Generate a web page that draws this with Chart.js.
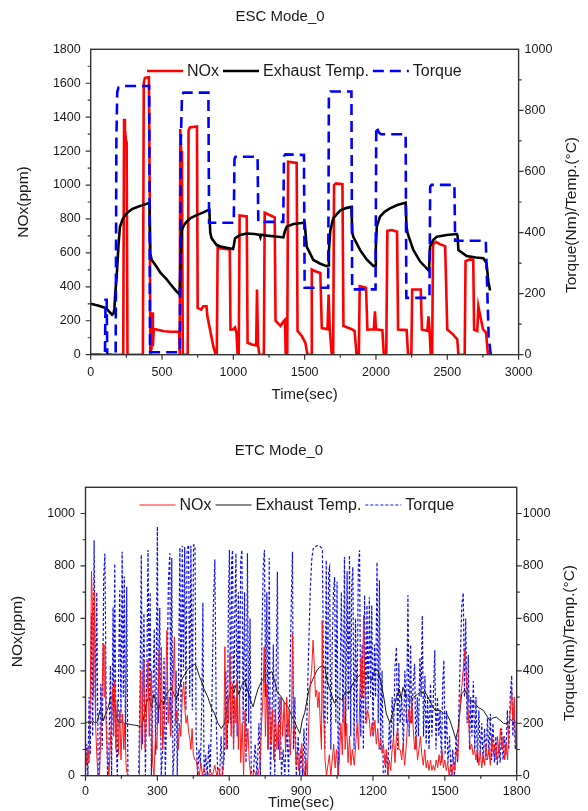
<!DOCTYPE html>
<html>
<head>
<meta charset="utf-8">
<title>ESC / ETC Mode_0</title>
<script src="https://cdn.jsdelivr.net/npm/chart.js@4.4.0/dist/chart.umd.min.js"></script>
<style>
  body { margin: 0; background: #fff; }
  #wrap { position: relative; width: 588px; height: 811px; }
  canvas { position: absolute; left: 0; }
  #escChart { top: 0; }
  #etcChart { top: 420px; }
</style>
</head>
<body>
<div id="wrap">
  <canvas id="escChart" width="588" height="420"></canvas>
  <canvas id="etcChart" width="588" height="391"></canvas>
</div>
<script>
// ---- ESC Mode_0 : [time (sec), value] ----
const escNox = [
  [0,0],[228,0],[234,1390],[240,1330],[246,1270],[252,1250],[258,0],[366,0],[372,1600],[380,1632],[408,1635],[414,900],[418,0],
  [422,220],[426,30],[431,250],[436,50],[442,150],[455,150],[515,138],[560,135],[620,135],[624,0],[628,1330],[634,1200],[640,1000],
  [646,0],[680,0],[686,1320],[695,1340],[745,1345],[750,276],[775,266],[790,286],[812,286],[818,226],[846,108],[860,49],[876,0],
  [884,0],[890,630],[930,625],[975,620],[980,148],[1000,150],[1012,160],[1022,130],[1030,0],[1038,0],[1044,820],[1094,815],
  [1100,70],[1130,60],[1160,55],[1166,384],[1173,60],[1182,0],[1214,0],[1220,837],[1250,825],[1290,810],[1296,200],[1330,170],
  [1355,200],[1362,206],[1367,0],[1378,0],[1384,1137],[1444,1130],[1450,140],[1480,110],[1505,69],[1520,0],[1545,0],[1550,502],
  [1580,490],[1610,482],[1620,157],[1660,150],[1668,354],[1676,150],[1690,0],[1700,0],[1706,1000],[1720,1010],[1765,1005],
  [1772,170],[1800,160],[1830,150],[1850,140],[1858,60],[1864,0],[1880,0],[1886,404],[1930,394],[1940,148],[1985,150],[1993,256],
  [2000,150],[2045,145],[2055,0],[2072,0],[2080,730],[2110,735],[2148,725],[2155,148],[2215,145],[2225,0],[2248,0],[2254,384],
  [2314,384],[2322,148],[2360,140],[2368,226],[2376,140],[2384,0],[2394,0],[2400,650],[2420,665],[2450,650],[2485,640],[2500,148],
  [2540,120],[2570,90],[2578,0],[2622,0],[2628,551],[2660,562],[2682,560],[2688,148],[2710,140],[2718,285],[2750,150],[2772,130],
  [2785,0],[2800,0]
];
const escTemp = [
  [0,167],[50,161],[105,153],[150,131],[160,135],[166,150],[172,200],[182,255],[195,360],[205,419],[225,445],[252,463],[290,477],
  [322,483],[360,489],[404,496],[412,496],[418,330],[428,310],[462,288],[490,268],[530,248],[561,230],[600,208],[624,197],[630,300],
  [638,408],[655,425],[673,436],[700,447],[743,457],[790,466],[825,474],[832,474],[838,400],[848,381],[883,359],[920,353],[953,350],
  [998,346],[1005,362],[1012,381],[1047,392],[1094,397],[1150,395],[1185,392],[1190,385],[1195,393],[1235,390],[1300,387],[1351,384],
  [1362,405],[1374,419],[1421,428],[1480,431],[1500,432],[1506,400],[1514,354],[1561,310],[1610,298],[1654,290],[1665,292],[1670,340],
  [1680,408],[1701,447],[1748,472],[1790,480],[1828,484],[1834,400],[1841,386],[1888,343],[1935,312],[1982,290],[1995,292],[1999,350],
  [2006,419],[2028,452],[2060,468],[2098,479],[2150,490],[2208,498],[2214,420],[2222,397],[2262,343],[2310,305],[2367,277],[2373,285],
  [2379,354],[2400,375],[2426,386],[2496,392],[2566,395],[2572,390],[2578,343],[2636,323],[2700,318],[2753,316],[2775,300],[2788,240],
  [2800,210]
];
const escTorque = [
  [0,0],[100,0],[104,180],[112,180],[116,0],[175,0],[180,700],[186,860],[195,875],[230,880],[410,880],[416,10],[430,8],[625,8],
  [632,700],[640,850],[650,858],[825,858],[830,432],[1003,432],[1008,640],[1015,648],[1170,648],[1175,435],[1350,435],[1355,650],
  [1365,656],[1495,654],[1500,219],[1665,219],[1670,855],[1680,862],[1828,862],[1833,214],[1997,214],[2002,747],[2020,728],
  [2035,722],[2208,722],[2213,186],[2375,186],[2380,550],[2390,556],[2550,556],[2555,373],[2770,373],[2790,60],[2805,0]
];

// ---- ETC Mode_0 : [time (sec), value] ----
const etcNox = [
  [0,100],[5,40],[10,108],[15,50],[20,300],[25,780],[29,650],[33,300],[37,700],[42,200],[47,80],[52,0],[58,0],[64,150],[70,350],
  [74,505],[78,300],[81,500],[86,200],[92,60],[98,0],[105,150],[110,250],[113,339],[118,150],[122,360],[127,100],[133,288],[138,80],
  [143,250],[148,60],[155,235],[160,100],[164,200],[170,30],[176,0],[225,0],[230,403],[234,100],[240,300],[244,440],[249,100],
  [255,250],[261,441],[266,150],[270,300],[275,400],[280,50],[286,0],[292,150],[298,100],[303,300],[308,479],[313,150],[317,490],
  [322,100],[328,200],[334,300],[340,555],[345,200],[350,300],[355,150],[362,300],[367,400],[371,530],[376,200],[382,250],[387,100],
  [393,200],[398,150],[404,300],[410,358],[416,240],[420,200],[425,230],[430,170],[436,140],[440,100],[445,180],[450,80],[457,60],
  [463,57],[468,20],[475,0],[482,50],[488,0],[495,30],[502,0],[510,0],[520,20],[530,0],[540,40],[548,0],[556,30],[563,0],[570,0],
  [576,50],[582,492],[587,100],[592,300],[597,200],[603,466],[608,150],[613,350],[618,100],[623,300],[628,200],[633,363],[638,100],
  [643,314],[648,50],[654,200],[660,0],[666,250],[672,100],[678,180],[684,50],[690,0],[698,0],[705,20],[712,0],[720,0],[728,50],
  [735,200],[741,300],[746,492],[751,150],[757,350],[762,100],[768,300],[774,120],[780,250],[786,60],[793,250],[799,100],[805,200],
  [811,60],[817,300],[823,150],[829,280],[835,100],[840,300],[845,150],[850,250],[855,80],[860,200],[864,543],[869,200],[874,150],
  [879,40],[885,100],[890,20],[896,80],[903,123],[908,30],[914,0],[920,60],[926,0],[932,200],[938,350],[944,400],[950,517],[955,420],
  [960,300],[965,327],[970,260],[975,320],[980,200],[985,100],[988,592],[992,250],[996,200],[1000,60],[1006,0],[1012,40],[1018,80],
  [1024,0],[1030,60],[1036,120],[1042,30],[1048,100],[1054,0],[1060,60],[1066,200],[1072,80],[1078,300],[1084,100],[1090,200],
  [1096,50],[1102,150],[1108,40],[1114,100],[1122,40],[1128,120],[1134,200],[1140,100],[1145,300],[1150,450],[1155,300],[1161,612],
  [1166,350],[1172,200],[1178,250],[1185,212],[1190,150],[1196,200],[1202,150],[1208,212],[1214,120],[1220,180],[1226,100],[1232,140],
  [1238,85],[1244,120],[1250,40],[1256,100],[1262,0],[1268,60],[1274,20],[1280,100],[1286,150],[1292,50],[1298,149],[1303,180],
  [1308,100],[1314,98],[1320,60],[1326,120],[1332,40],[1338,100],[1344,200],[1350,250],[1356,200],[1362,289],[1368,180],[1374,100],
  [1380,150],[1386,60],[1392,100],[1398,150],[1404,80],[1410,40],[1416,100],[1422,30],[1428,60],[1434,20],[1440,60],[1446,20],
  [1452,40],[1458,20],[1464,60],[1470,30],[1476,80],[1482,40],[1488,100],[1494,30],[1500,60],[1506,20],[1512,50],[1518,0],[1524,40],
  [1530,0],[1536,60],[1542,20],[1548,100],[1554,60],[1560,200],[1566,300],[1572,350],[1578,420],[1584,479],[1589,400],[1594,300],
  [1600,200],[1606,100],[1612,120],[1618,80],[1624,100],[1630,60],[1636,100],[1642,40],[1648,90],[1654,30],[1660,80],[1666,40],
  [1672,120],[1678,60],[1684,100],[1690,40],[1696,150],[1702,80],[1708,120],[1714,60],[1720,150],[1726,80],[1732,180],[1738,100],
  [1744,150],[1750,60],[1756,120],[1762,60],[1768,200],[1774,250],[1779,327],[1784,212],[1790,300],[1795,120],[1800,150]
];
const etcTemp = [
  [0,200],[10,205],[20,200],[30,210],[40,200],[50,205],[60,250],[67,248],[75,210],[85,240],[95,260],[105,300],[115,299],[122,280],
  [130,220],[140,200],[150,205],[160,200],[175,198],[190,195],[205,193],[220,190],[233,185],[245,230],[255,280],[265,300],[275,260],
  [285,310],[295,280],[305,250],[315,290],[325,270],[335,300],[345,320],[358,337],[370,310],[380,290],[390,330],[400,363],[410,380],
  [420,395],[430,410],[442,414],[456,427],[465,410],[475,380],[483,363],[495,330],[511,299],[525,260],[539,236],[553,200],[567,180],
  [580,200],[590,250],[600,300],[608,338],[620,320],[630,350],[640,310],[650,340],[664,363],[675,330],[685,300],[692,280],[700,263],
  [710,300],[720,330],[735,360],[750,380],[765,390],[778,397],[790,360],[800,320],[817,301],[830,280],[845,263],[860,230],[875,200],
  [885,180],[895,161],[905,212],[915,240],[925,290],[935,337],[950,370],[965,400],[977,414],[991,420],[1000,410],[1008,363],
  [1020,330],[1030,300],[1040,276],[1055,300],[1070,289],[1085,320],[1100,314],[1115,350],[1130,370],[1151,389],[1170,390],
  [1185,375],[1193,363],[1208,403],[1221,401],[1235,350],[1245,300],[1256,236],[1271,200],[1285,250],[1298,299],[1310,330],
  [1318,295],[1325,337],[1340,300],[1355,287],[1370,300],[1385,310],[1400,320],[1423,312],[1440,280],[1460,248],[1480,250],
  [1495,236],[1507,236],[1521,212],[1535,172],[1545,142],[1555,174],[1570,312],[1584,327],[1600,290],[1620,282],[1640,260],
  [1660,250],[1688,210],[1700,220],[1715,223],[1730,212],[1745,200],[1760,197],[1775,215],[1790,200],[1800,205]
];
const etcTorque = [
  [0,0],[5,120],[10,0],[15,300],[20,80],[25,620],[30,150],[36,898],[42,200],[47,700],[53,0],[58,0],[64,350],[70,100],[76,760],
  [81,847],[86,300],[92,0],[97,60],[104,420],[109,0],[115,643],[118,200],[122,809],[127,150],[133,0],[138,380],[143,707],[148,200],
  [153,854],[158,300],[162,760],[167,100],[172,721],[177,0],[222,0],[228,350],[233,842],[238,120],[244,620],[250,0],[256,400],
  [261,861],[266,300],[270,700],[275,0],[281,300],[287,560],[293,80],[300,950],[304,200],[310,640],[316,0],[322,100],[328,450],
  [333,0],[340,300],[346,740],[352,848],[356,150],[360,830],[365,0],[372,120],[378,400],[383,0],[388,320],[394,870],[399,200],
  [404,877],[409,400],[414,872],[419,250],[424,860],[430,880],[435,300],[440,877],[446,250],[451,880],[457,878],[462,150],[468,0],
  [474,100],[480,40],[486,300],[490,660],[495,0],[502,80],[508,0],[515,120],[520,0],[528,300],[534,650],[540,825],[546,200],[552,0],
  [560,0],[566,150],[572,0],[580,80],[586,400],[592,100],[597,700],[601,861],[606,200],[610,820],[614,860],[618,100],[623,600],
  [628,848],[633,150],[638,700],[643,300],[648,820],[653,861],[658,200],[664,700],[670,50],[676,848],[681,200],[687,600],[692,0],
  [700,0],[708,120],[716,0],[724,200],[730,0],[736,500],[742,800],[747,861],[752,300],[757,700],[762,100],[767,830],[772,0],
  [778,200],[784,500],[790,0],[796,400],[801,778],[806,100],[812,300],[818,0],[825,100],[832,0],[840,200],[848,0],[854,400],
  [860,700],[864,854],[868,100],[874,300],[880,0],[888,150],[894,0],[900,100],[906,0],[912,180],[918,0],[925,250],[932,500],
  [938,700],[944,820],[950,865],[957,873],[964,876],[971,878],[978,875],[984,870],[989,860],[994,300],[999,100],[1005,822],
  [1010,200],[1015,780],[1019,796],[1024,100],[1030,500],[1035,700],[1040,758],[1045,200],[1050,740],[1055,0],[1062,300],
  [1068,700],[1075,200],[1081,834],[1086,150],[1092,780],[1097,250],[1102,841],[1107,150],[1111,720],[1116,796],[1121,100],
  [1127,600],[1133,200],[1139,800],[1144,860],[1149,150],[1155,500],[1160,100],[1165,688],[1170,200],[1175,650],[1180,250],
  [1185,680],[1190,300],[1195,650],[1200,150],[1206,500],[1211,300],[1217,815],[1222,200],[1227,745],[1232,100],[1238,400],
  [1243,0],[1250,0],[1256,100],[1262,0],[1268,200],[1274,100],[1280,300],[1286,150],[1292,420],[1298,490],[1303,100],[1308,430],
  [1313,200],[1320,300],[1327,100],[1333,400],[1340,200],[1346,688],[1351,150],[1357,500],[1362,200],[1368,350],[1374,427],
  [1379,100],[1385,300],[1390,150],[1396,450],[1401,300],[1406,611],[1411,150],[1417,380],[1422,120],[1428,300],[1434,100],
  [1440,350],[1446,150],[1452,300],[1458,478],[1463,100],[1469,300],[1475,150],[1480,250],[1486,50],[1491,350],[1496,440],
  [1501,80],[1507,250],[1513,50],[1520,150],[1526,0],[1533,100],[1540,0],[1547,150],[1553,50],[1560,300],[1566,500],[1571,650],
  [1577,697],[1582,300],[1587,600],[1593,200],[1598,460],[1603,100],[1608,300],[1613,150],[1619,360],[1625,100],[1630,300],
  [1636,50],[1642,250],[1648,80],[1654,200],[1660,50],[1666,180],[1672,60],[1678,220],[1684,80],[1690,236],[1695,60],[1701,200],
  [1707,50],[1713,150],[1719,40],[1725,120],[1731,50],[1737,180],[1743,60],[1749,150],[1755,80],[1761,250],[1767,100],[1773,300],
  [1779,382],[1784,150],[1789,250],[1794,100],[1800,200]
];

const seriesLabels = ['NOx', 'Exhaust Temp.', 'Torque'];
const FONT = '"Liberation Sans", Arial, sans-serif';
Chart.defaults.font.family = FONT;
Chart.defaults.color = '#1a1a1a';

function pts(arr) {
  return arr.map(p => ({ x: p[0], y: p[1] }));
}

// frame, tick marks, title, right axis title and in-plot legend
const decor = {
  id: 'decor',
  afterDraw(chart, args, o) {
    const ctx = chart.ctx;
    const a = chart.chartArea;
    const s = chart.scales;
    ctx.save();
    ctx.strokeStyle = '#333';
    ctx.setLineDash([]);
    ctx.lineWidth = 1.4;
    ctx.strokeRect(a.left, a.top, a.right - a.left, a.bottom - a.top);

    ctx.lineWidth = 1.2;
    ctx.beginPath();
    for (let v = s.x.min; v <= s.x.max; v += o.xMinor) {
      const p = s.x.getPixelForValue(v);
      const len = v % (o.xMinor * 2) === 0 ? 5 : 3;
      ctx.moveTo(p, a.bottom); ctx.lineTo(p, a.bottom + len);
    }
    for (let v = 0; v < s.y.max; v += 100) {
      const p = s.y.getPixelForValue(v);
      const len = v % 200 === 0 ? 5 : 3;
      ctx.moveTo(a.left, p); ctx.lineTo(a.left - len, p);
    }
    for (let v = 0; v < s.y1.max; v += 100) {
      const p = s.y1.getPixelForValue(v);
      const len = v % 200 === 0 ? 5 : 3;
      ctx.moveTo(a.right, p); ctx.lineTo(a.right + len, p);
    }
    ctx.stroke();

    ctx.fillStyle = '#1a1a1a';
    ctx.textAlign = 'center';
    ctx.textBaseline = 'middle';
    ctx.font = '15px ' + FONT;
    ctx.fillText(o.title, o.titleX, o.titleY);

    ctx.save();
    ctx.translate(o.sideX, o.sideY);
    ctx.rotate(-Math.PI / 2);
    ctx.font = '15.5px ' + FONT;
    ctx.fillText('Torque(Nm)/Temp.(°C)', 0, 0);
    ctx.restore();

    // legend
    let x = o.legendX;
    ctx.font = '16px ' + FONT;
    ctx.textAlign = 'left';
    chart.data.datasets.forEach(ds => {
      ctx.strokeStyle = ds.borderColor;
      ctx.lineWidth = ds.borderWidth;
      ctx.setLineDash(ds.borderDash || []);
      ctx.beginPath();
      ctx.moveTo(x, o.legendY);
      ctx.lineTo(x + 36, o.legendY);
      ctx.stroke();
      ctx.setLineDash([]);
      x += 40;
      ctx.fillText(ds.label, x, o.legendY + 1);
      x += ctx.measureText(ds.label).width + 4;
    });
    ctx.restore();
  }
};

function makeScales(cfg) {
  const tickFont = { size: 12.5 };
  return {
    x: {
      type: 'linear', min: 0, max: cfg.xMax,
      ticks: { stepSize: cfg.xStep, padding: cfg.xPad, font: tickFont, maxRotation: 0, callback: v => String(v) },
      grid: { display: false, drawTicks: false },
      border: { display: false },
      title: { display: true, text: 'Time(sec)', font: { size: 15, lineHeight: cfg.xTitleLH }, padding: { top: 0, bottom: cfg.xTitlePad } },
      afterFit(sc) { sc.height = cfg.xHeight; }
    },
    y: {
      position: 'left', min: 0, max: cfg.yMax,
      ticks: { stepSize: 200, padding: cfg.yPad, font: tickFont, callback: v => (v % 200 === 0 ? String(v) : '') },
      grid: { display: false, drawTicks: false },
      border: { display: false },
      title: { display: true, text: 'NOx(ppm)', font: { size: 15.5 }, padding: { top: cfg.yTitlePad, bottom: 0 } },
      afterFit(sc) { sc.width = cfg.leftW; }
    },
    y1: {
      position: 'right', min: 0, max: cfg.y1Max,
      ticks: { stepSize: 200, padding: 6, font: tickFont, callback: v => (v % 200 === 0 ? String(v) : '') },
      grid: { display: false, drawTicks: false },
      border: { display: false },
      afterFit(sc) { sc.width = cfg.rightW; }
    }
  };
}

const baseOptions = {
  responsive: false,
  animation: false,
  devicePixelRatio: 1,
  events: [],
  elements: { point: { radius: 0 }, line: { tension: 0 } }
};

new Chart(document.getElementById('escChart'), {
  type: 'line',
  data: {
    datasets: [
      { label: seriesLabels[0], data: pts(escNox), yAxisID: 'y', borderColor: '#ff0000', borderWidth: 2.6, order: 3 },
      { label: seriesLabels[1], data: pts(escTemp), yAxisID: 'y1', borderColor: '#000000', borderWidth: 2.6, order: 2 },
      { label: seriesLabels[2], data: pts(escTorque), yAxisID: 'y1', borderColor: '#0000ff', borderWidth: 2.6, borderDash: [11, 6], order: 1 }
    ]
  },
  options: Object.assign({}, baseOptions, {
    layout: { padding: { top: 49.3, left: 0, right: 0, bottom: 0 } },
    scales: makeScales({ xMax: 3000, xStep: 500, xPad: 10, xHeight: 65.3, xTitleLH: 1.2, xTitlePad: 16,
                         yMax: 1800, y1Max: 1000, yPad: 10, yTitlePad: 14, leftW: 90.7, rightW: 69.4 }),
    plugins: {
      legend: { display: false },
      tooltip: { enabled: false },
      decor: { xMinor: 250, title: 'ESC Mode_0', titleX: 280, titleY: 17,
               sideX: 572, sideY: 215, legendX: 147, legendY: 71 }
    }
  }),
  plugins: [decor]
});

new Chart(document.getElementById('etcChart'), {
  type: 'line',
  data: {
    datasets: [
      { label: seriesLabels[0], data: pts(etcNox), yAxisID: 'y', borderColor: '#ff1a1a', borderWidth: 1, order: 1 },
      { label: seriesLabels[1], data: pts(etcTemp), yAxisID: 'y1', borderColor: '#1a1a1a', borderWidth: 1, order: 2 },
      { label: seriesLabels[2], data: pts(etcTorque), yAxisID: 'y1', borderColor: '#1010ee', borderWidth: 1.2, borderDash: [3, 2], order: 3 }
    ]
  },
  options: Object.assign({}, baseOptions, {
    layout: { padding: { top: 67.3, left: 0, right: 0, bottom: 0 } },
    scales: makeScales({ xMax: 1800, xStep: 300, xPad: 8.5, xHeight: 35.3, xTitleLH: 1.0, xTitlePad: 0.5,
                         yMax: 1100, y1Max: 1100, yPad: 10.5, yTitlePad: 8, leftW: 85.5, rightW: 71.3 }),
    plugins: {
      legend: { display: false },
      tooltip: { enabled: false },
      decor: { xMinor: 150, title: 'ETC Mode_0', titleX: 279, titleY: 31,
               sideX: 570, sideY: 223, legendX: 139.5, legendY: 85 }
    }
  }),
  plugins: [decor]
});
</script>
</body>
</html>
